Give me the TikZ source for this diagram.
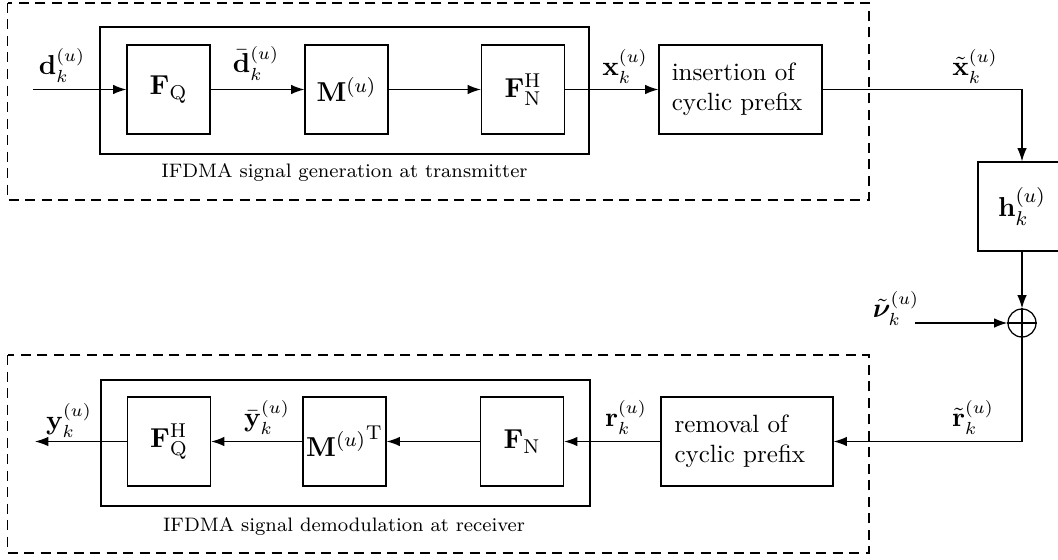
\documentclass[tikz,border=0pt]{standalone}
\usepackage{amsmath}
\usepackage{bm}
\usetikzlibrary{arrows.meta,shapes.geometric}
\begin{document}
\begin{tikzpicture}[x=0.4pt,y=-0.4pt,
  blk/.style={draw,line width=0.5pt,minimum width=33.2pt,minimum height=35.6pt,inner sep=0pt,font=\fontsize{11pt}{13pt}\selectfont},
  wide/.style={draw,line width=0.5pt,minimum height=35.6pt,inner sep=0pt,align=left},
  frame/.style={draw,line width=0.5pt},
  dframe/.style={draw,line width=0.5pt,dash pattern=on 4pt off 2.6pt},
  sig/.style={line width=0.5pt,-{Latex[length=5.3pt,width=3.8pt]}},
  lbl/.style={inner sep=0pt,font=\fontsize{10.7pt}{13pt}\selectfont},
  captext/.style={inner sep=0pt,font=\fontsize{7.8pt}{9pt}\selectfont}]
\useasboundingbox (0,0) rectangle (1058,559);
% frames
\draw[dframe] (7.6,3) rectangle (869,200);
\draw[frame] (100,27) rectangle (589,154);
\draw[dframe] (7.6,355) rectangle (869,553);
\draw[frame] (101,380) rectangle (590,506);
\node[captext] (captx) at (344.5,173) {IFDMA signal generation at transmitter};
\node[captext] (caprx) at (344,527) {IFDMA signal demodulation at receiver};
% transmitter blocks
\node[blk] (fq) at (168.5,89.5) {$\mathbf{F}_{\mathrm{Q}}$};
\node[blk] (m) at (346.5,89.5) {$\mathbf{M}^{(u)}$};
\node[blk] (fnh) at (523,89.5) {$\mathbf{F}_{\mathrm{N}}^{\mathrm{H}}$};
\node[wide,minimum width=65.2pt,text width=55pt] (ins) at (740.5,89.5) {insertion of\\cyclic prefix};
% channel
\node[blk,minimum width=35.2pt] (h) at (1022,206.5) {$\mathbf{h}_k^{(u)}$};
\node[draw,circle,line width=0.5pt,minimum size=11.2pt,inner sep=0pt] (sum) at (1022,323) {};
\draw[line width=0.5pt] (sum.north) -- (sum.south) (sum.west) -- (sum.east);
% receiver blocks
\node[wide,minimum width=68.8pt,text width=58pt] (rem) at (747,441.5) {removal of\\cyclic prefix};
\node[blk] (fn) at (522,441.5) {$\mathbf{F}_{\mathrm{N}}$};
\node[blk] (mt) at (344.5,441.5) {${\mathbf{M}^{(u)}}^{\mathrm{T}}$};
\node[blk] (fqh) at (169,441.5) {$\mathbf{F}_{\mathrm{Q}}^{\mathrm{H}}$};
% free ends
\coordinate (din) at (33,89.5);
\coordinate (nuin) at (915,323);
\coordinate (yout) at (35,441.5);
% connectors
\draw[sig] (din) -- (fq.west);
\draw[sig] (fq.east) -- (m.west);
\draw[sig] (m.east) -- (fnh.west);
\draw[sig] (fnh.east) -- (ins.west);
\draw[sig] (ins.east) -| (h.north);
\draw[sig] (h.south) -- (sum.north);
\draw[sig] (nuin) -- (sum.west);
\draw[sig] (sum.south) |- (rem.east);
\draw[sig] (rem.west) -- (fn.east);
\draw[sig] (fn.west) -- (mt.east);
\draw[sig] (mt.west) -- (fqh.east);
\draw[sig] (fqh.west) -- (yout);
% signal labels
\node[lbl] (ld) at (62,65) {$\mathbf{d}_k^{(u)}$};
\node[lbl] (ldb) at (256,63) {$\bar{\mathbf{d}}_k^{(u)}$};
\node[lbl] (lx) at (625,66) {$\mathbf{x}_k^{(u)}$};
\node[lbl] (lxt) at (975,66) {$\tilde{\mathbf{x}}_k^{(u)}$};
\node[lbl] (lnu) at (896,308) {$\tilde{\bm{\nu}}_k^{(u)}$};
\node[lbl] (lrt) at (973,417) {$\tilde{\mathbf{r}}_k^{(u)}$};
\node[lbl] (lr) at (626,417) {$\mathbf{r}_k^{(u)}$};
\node[lbl] (lyb) at (267,417) {$\bar{\mathbf{y}}_k^{(u)}$};
\node[lbl] (ly) at (69,420) {$\mathbf{y}_k^{(u)}$};
\end{tikzpicture}
\end{document}
